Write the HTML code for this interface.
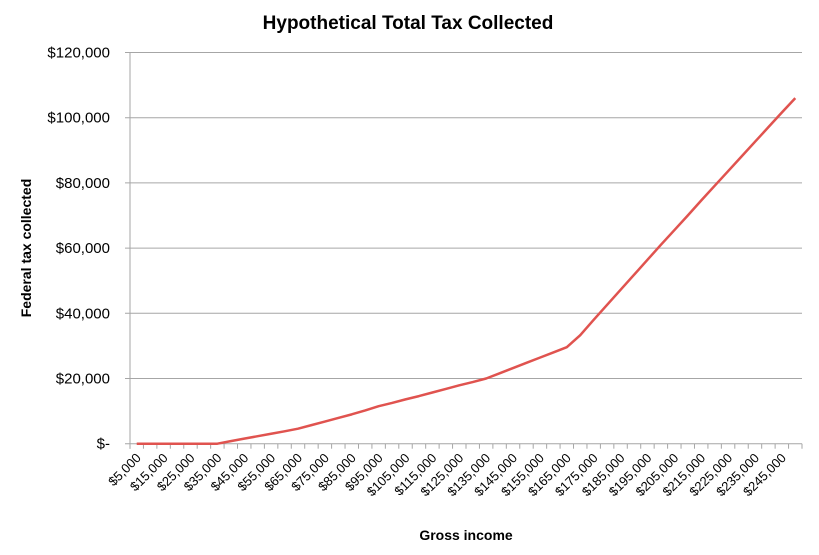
<!DOCTYPE html>
<html><head><meta charset="utf-8"><style>
body{margin:0;background:#fff;}
svg text{font-family:"Liberation Sans",sans-serif;fill:#000;}
</style></head><body>
<svg id="chart" width="819" height="550" xmlns="http://www.w3.org/2000/svg">
<text x="408" y="29" text-anchor="middle" font-size="19" font-weight="bold">Hypothetical Total Tax Collected</text>
<text transform="translate(31,248) rotate(-90)" text-anchor="middle" font-size="14" font-weight="bold">Federal tax collected</text>
<text x="466" y="540" text-anchor="middle" font-size="14" font-weight="bold">Gross income</text>
<g id="grid"></g><g id="xaxis"></g><g id="series"></g>
</svg>
<script>
const incomes=[];for(let v=5000;v<=250000;v+=5000)incomes.push(v);
const taxValues=[0,0,0,0,0,0,0,800,1550,2300,3050,3800,4600,5700,6800,7900,9000,10200,11500,12500,13600,14600,15700,16800,17900,18900,20000,21600,23200,24800,26400,28000,29600,33300,38000,42600,47200,51800,56400,61000,65500,70000,74600,79100,83600,88100,92600,97100,101600,106000];
const yTicks=[0,20000,40000,60000,80000,100000,120000];
const yTickLabels=["$-","$20,000","$40,000","$60,000","$80,000","$100,000","$120,000"];
const NS="http://www.w3.org/2000/svg";
const X0=130,X1=802,Y0=443.7,Y1=52.5,YMAX=120000;
const step=(X1-X0)/incomes.length;
const xs=i=>X0+step*(i+0.5);
const ys=v=>Y0-(v/YMAX)*(Y0-Y1);
function mk(t,a,p){const e=document.createElementNS(NS,t);for(const k in a)e.setAttribute(k,a[k]);p.appendChild(e);return e;}
const grid=document.getElementById('grid');
yTicks.forEach((v,i)=>{
 const l=mk('line',{x1:125,x2:X1,y1:ys(v),y2:ys(v),stroke:'#a6a6a6','stroke-width':1},grid);
 
 
 const t=mk('text',{x:110,y:ys(v)+5,'text-anchor':'end','font-size':15},grid);
 t.textContent=yTickLabels[i];
 
 
});
const ax=document.getElementById('xaxis');
const ya=mk('line',{x1:X0,x2:X0,y1:Y1,y2:Y0+5,stroke:'#a6a6a6'},ax);


for(let i=0;i<=incomes.length;i++){
 const tk=mk('line',{x1:X0+step*i,x2:X0+step*i,y1:Y0,y2:Y0+5,stroke:'#a6a6a6'},ax);
 
 
}
incomes.forEach((v,i)=>{
 if(i%2)return;
 const x=xs(i)+5,y=Y0+15;
 const t=mk('text',{x:x,y:y,'text-anchor':'end','font-size':13,transform:`rotate(-45 ${x} ${y})`},ax);
 t.textContent='$'+v.toLocaleString('en-US');
 
 
});
const s=document.getElementById('series');
const p=mk('polyline',{points:taxValues.map((v,i)=>xs(i)+','+ys(v)).join(' '),fill:'none',stroke:'#e0534f','stroke-width':2.5,'stroke-linejoin':'round'},s);


</script>
</body></html>
